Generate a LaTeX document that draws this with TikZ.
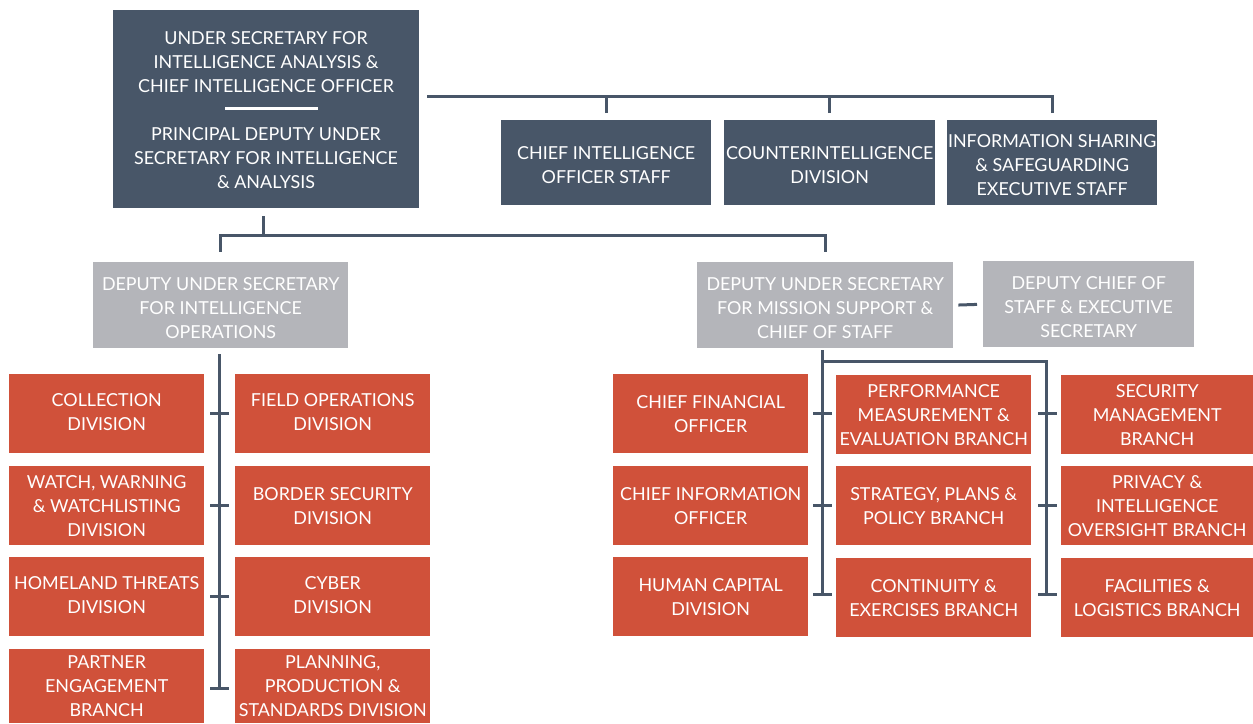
\documentclass[tikz,border=0pt]{standalone}
\usepackage{fontspec}
\setmainfont{Lato}
\usetikzlibrary{calc}
\definecolor{slate}{RGB}{72,86,104}
\definecolor{lgray}{RGB}{180,181,186}
\definecolor{brick}{RGB}{208,81,58}
\newcommand\dnstrut{\rule{0pt}{18.5pt}}
\tikzset{
  base/.style={anchor=north west, inner sep=0pt, text=white, align=center,
    font=\fontsize{17.9}{24}\selectfont},
  darkbox/.style={base, fill=slate},
  graybox/.style={base, fill=lgray},
  redbox/.style={base, fill=brick},
  conn/.style={draw=slate, line width=3pt},
  txt/.style={inner sep=0pt, text=white, align=center, font=\fontsize{17.9}{24}\selectfont}
}
\begin{document}
\begin{tikzpicture}[x=1pt,y=-1pt]
\useasboundingbox (0,0) rectangle (1253,723);
% top
\node[darkbox, minimum width=306pt, minimum height=198pt] (top) at (113,10) {};
\node[txt] (t1) at (266,62) {UNDER SECRETARY FOR\\INTELLIGENCE ANALYSIS \&\\CHIEF INTELLIGENCE OFFICER};
\node[txt] (t2) at (266,158) {PRINCIPAL DEPUTY UNDER\\SECRETARY FOR INTELLIGENCE\\\& ANALYSIS};
\coordinate (sepA) at (225,108);
\coordinate (sepB) at (318,108);
\draw[white, line width=3pt] (sepA) -- (sepB);
% top right staff
\node[darkbox, minimum width=210pt, minimum height=85pt] (cios) at (501,120) {\dnstrut CHIEF INTELLIGENCE\\OFFICER STAFF};
\node[darkbox, minimum width=211pt, minimum height=85pt] (cid) at (724,120) {\dnstrut COUNTERINTELLIGENCE\\DIVISION};
\node[darkbox, minimum width=210pt, minimum height=85pt] (ises) at (947,120) {\dnstrut INFORMATION SHARING\\\& SAFEGUARDING\\EXECUTIVE STAFF};
\coordinate (hb) at (428,96);
\draw[conn, line cap=rect] (hb) -- (ises.north |- hb);
\foreach \n in {cios,cid,ises}{\draw[conn, shorten <=7pt] (\n.north) -- (\n.north |- hb);}
% deputies
\node[graybox, minimum width=255pt, minimum height=86pt] (dio) at (93,262) {\dnstrut DEPUTY UNDER SECRETARY\\FOR INTELLIGENCE\\OPERATIONS};
\node[graybox, minimum width=256pt, minimum height=86pt] (dms) at (697,262) {\dnstrut DEPUTY UNDER SECRETARY\\FOR MISSION SUPPORT \&\\CHIEF OF STAFF};
\node[graybox, minimum width=211pt, minimum height=86pt] (dcos) at (983,261) {\dnstrut DEPUTY CHIEF OF\\STAFF \& EXECUTIVE\\SECRETARY};
\coordinate (j1) at (263,235);
\draw[conn, shorten <=8pt] (j1 |- top.south) -- (j1);
\draw[conn, shorten >=10pt] (dio.north |- j1) -- (dms.north |- j1) -- (dms.north);
\draw[conn, shorten >=10pt] (dms.north |- j1) -- (dio.north |- j1) -- (dio.north);
\draw[conn, shorten <=5pt, shorten >=6pt] (dms.east) -- (dcos.west);
% left branch boxes
\tikzset{lw/.style={redbox, minimum width=195pt, minimum height=79pt}}
\node[lw] (col) at (9,374) {COLLECTION\\DIVISION\vphantom{g}};
\node[lw] (www) at (9,466) {WATCH, WARNING\\\& WATCHLISTING\\DIVISION};
\node[lw] (htd) at (9,557) {HOMELAND THREATS\\DIVISION\vphantom{g}};
\node[lw, minimum height=74pt] (peb) at (9,649) {PARTNER\\ENGAGEMENT\\BRANCH};
\node[lw] (fod) at (235,374) {FIELD OPERATIONS\\DIVISION\vphantom{g}};
\node[lw] (bsd) at (235,466) {BORDER SECURITY\\DIVISION};
\node[lw] (cyb) at (235,557) {CYBER\\DIVISION\vphantom{g}};
\node[lw, minimum height=74pt] (pps) at (235,649) {PLANNING,\\PRODUCTION \&\\STANDARDS DIVISION};
\coordinate (lt) at (219,688);
\draw[conn, shorten <=6pt] (dio.south -| lt) -- (lt);
\draw[conn, shorten <=6pt, shorten >=6pt] (col.east) -- (fod.west);
\draw[conn, shorten <=6pt, shorten >=6pt] (www.east) -- (bsd.west);
\draw[conn, shorten <=6pt, shorten >=6pt] (htd.east) -- (cyb.west);
\draw[conn, shorten <=6pt, shorten >=6pt] (peb.east |- lt) -- (pps.west |- lt);
% right branch boxes
\tikzset{rw/.style={redbox, minimum height=79pt}}
\node[rw, minimum width=195pt] (cfo) at (613,374) {CHIEF FINANCIAL\\OFFICER};
\node[rw, minimum width=195pt] (cio) at (613,466) {CHIEF INFORMATION\\OFFICER};
\node[rw, minimum width=195pt] (hcd) at (613,557) {HUMAN CAPITAL\\DIVISION};
\node[rw, minimum width=195pt] (pme) at (836,375) {PERFORMANCE\\MEASUREMENT \&\\EVALUATION BRANCH};
\node[rw, minimum width=195pt] (spp) at (836,466) {STRATEGY, PLANS \&\\POLICY BRANCH};
\node[rw, minimum width=195pt] (ceb) at (836,558) {CONTINUITY \&\\EXERCISES BRANCH};
\node[rw, minimum width=192pt] (smb) at (1061,375) {SECURITY\\MANAGEMENT\\BRANCH};
\node[rw, minimum width=192pt] (pio) at (1061,466) {PRIVACY \&\\INTELLIGENCE\\OVERSIGHT BRANCH};
\node[rw, minimum width=192pt] (flb) at (1061,558) {FACILITIES \&\\LOGISTICS BRANCH};
\coordinate (m1) at (822,361);
\coordinate (m2) at (1046,361);
\coordinate (mb) at (822,594);
\draw[conn, shorten <=2pt] (dms.south -| m1) -- (mb);
\draw[conn] (m1) -- (m2) -- (m2 |- mb);
\draw[conn, shorten <=5pt, shorten >=4pt] (cfo.east) -- (pme.west |- cfo.east);
\draw[conn, shorten <=5pt, shorten >=4pt] (cio.east) -- (spp.west |- cio.east);
\draw[conn, shorten <=5pt, shorten >=4pt] (hcd.east |- mb) -- (ceb.west |- mb);
\draw[conn, shorten <=7pt, shorten >=4pt] (pme.east |- cfo.east) -- (smb.west |- cfo.east);
\draw[conn, shorten <=7pt, shorten >=4pt] (spp.east |- cio.east) -- (pio.west |- cio.east);
\draw[conn, shorten <=7pt, shorten >=4pt] (ceb.east |- mb) -- (flb.west |- mb);
\end{tikzpicture}
\end{document}
